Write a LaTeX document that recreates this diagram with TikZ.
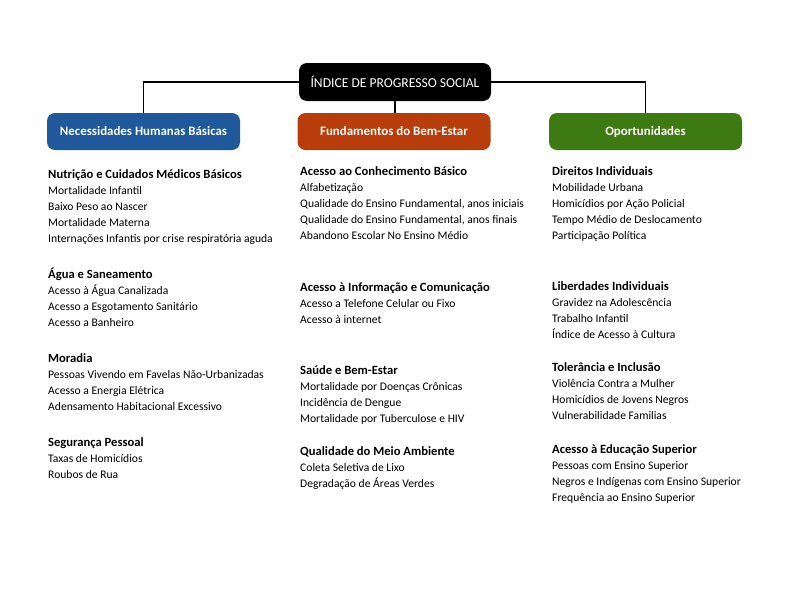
\documentclass[tikz,border=0pt]{standalone}
\usepackage{fontspec}
\setmainfont{Carlito}
\definecolor{nhb}{RGB}{31,88,155}
\definecolor{fbe}{RGB}{184,61,10}
\definecolor{opo}{RGB}{62,122,18}
\begin{document}
\begin{tikzpicture}[x=1pt,y=-1pt,
  catbox/.style={rounded corners=8pt, minimum width=193pt, minimum height=37pt, inner sep=0pt, text=white, font=\fontsize{12.9}{14}\selectfont\bfseries},
  topbox/.style={rounded corners=8pt, fill=black, minimum width=192pt, minimum height=38pt, inner sep=0pt, text=white, font=\fontsize{13.6}{15}\selectfont},
  head/.style={anchor=base west, inner sep=0pt, font=\fontsize{12.6}{14}\selectfont\bfseries},
  item/.style={anchor=base west, inner sep=0pt, font=\fontsize{11.6}{13}\selectfont},
  conn/.style={draw=black, line width=1.1pt}]
\useasboundingbox (0,0) rectangle (808,589);
\node[topbox] (top) at (395,82) {ÍNDICE DE PROGRESSO SOCIAL};
\node[catbox, fill=nhb] (c1) at (143.5,131.5) {Necessidades Humanas Básicas};
\node[catbox, fill=fbe] (c2) at (394,131.5) {Fundamentos do Bem-Estar};
\node[catbox, fill=opo] (c3) at (645.5,131.5) {Oportunidades};
\draw[conn] (top.west) -| (c1.north);
\draw[conn] (top.east) -| (c3.north);
\draw[conn] (top.south) -- (top.south |- c2.north);
\newcommand{\grp}[5]{%
  \node[head] (#1h) at (#2,#3) {#4};
  \foreach \t [count=\i] in {#5} \node[item] (#1i\i) at (#2,#3+16.2*\i) {\t};}
% left column
\grp{la}{48}{178}{Nutrição e Cuidados Médicos Básicos}{Mortalidade Infantil,Baixo Peso ao Nascer,Mortalidade Materna,Internações Infantis por crise respiratória aguda}
\grp{lb}{48}{278}{Água e Saneamento}{Acesso à Água Canalizada,Acesso a Esgotamento Sanitário,Acesso a Banheiro}
\grp{lc}{48}{362}{Moradia}{Pessoas Vivendo em Favelas Não-Urbanizadas,Acesso a Energia Elétrica,Adensamento Habitacional Excessivo}
\grp{ld}{48}{446}{Segurança Pessoal}{Taxas de Homicídios,Roubos de Rua}
% middle column
\grp{ma}{300}{175}{Acesso ao Conhecimento Básico}{Alfabetização,{Qualidade do Ensino Fundamental, anos iniciais},{Qualidade do Ensino Fundamental, anos finais},Abandono Escolar No Ensino Médio}
\grp{mb}{300}{291}{Acesso à Informação e Comunicação}{Acesso a Telefone Celular ou Fixo,Acesso à internet}
\grp{mc}{300}{374}{Saúde e Bem-Estar}{Mortalidade por Doenças Crônicas,Incidência de Dengue,Mortalidade por Tuberculose e HIV}
\grp{md}{300}{455}{Qualidade do Meio Ambiente}{Coleta Seletiva de Lixo,Degradação de Áreas Verdes}
% right column
\grp{ra}{552}{175}{Direitos Individuais}{Mobilidade Urbana,Homicídios por Ação Policial,Tempo Médio de Deslocamento,Participação Política}
\grp{rb}{552}{290}{Liberdades Individuais}{Gravidez na Adolescência,Trabalho Infantil,Índice de Acesso à Cultura}
\grp{rc}{552}{371}{Tolerância e Inclusão}{Violência Contra a Mulher,Homicídios de Jovens Negros,Vulnerabilidade Familias}
\grp{rd}{552}{453}{Acesso à Educação Superior}{Pessoas com Ensino Superior,Negros e Indígenas com Ensino Superior,Frequência ao Ensino Superior}
\end{tikzpicture}
\end{document}
